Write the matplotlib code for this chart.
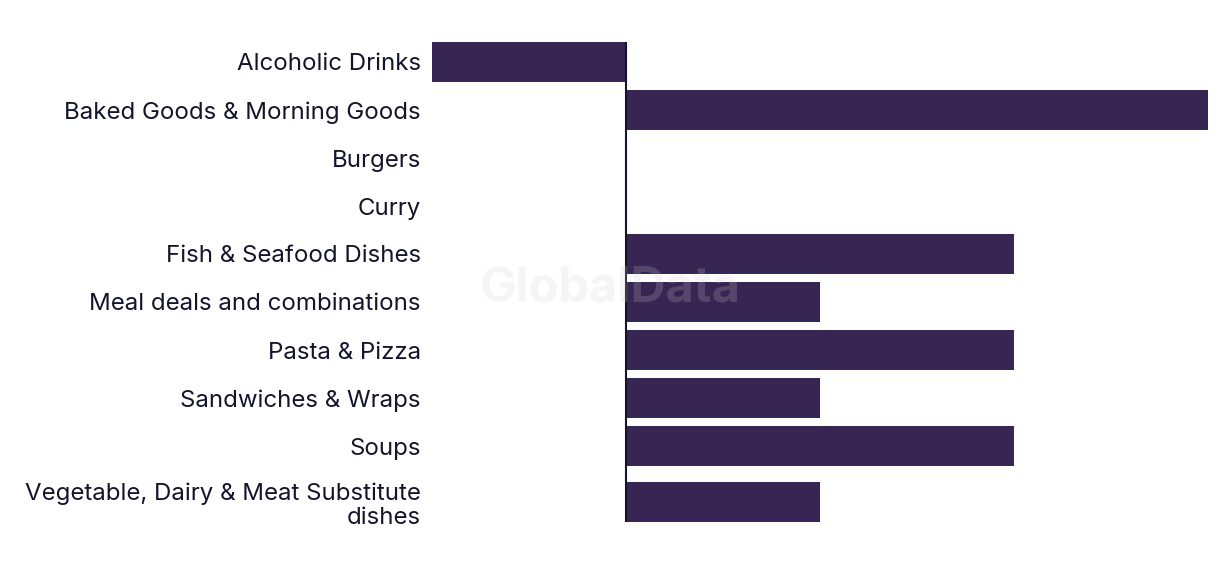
import numpy as np
import matplotlib.pyplot as plt

categories = ["Alcoholic Drinks", "Baked Goods & Morning Goods", "Burgers", "Curry",
              "Fish & Seafood Dishes", "Meal deals and combinations", "Pasta & Pizza",
              "Sandwiches & Wraps", "Soups", "Vegetable, Dairy & Meat Substitute\ndishes"]
values = [-1, 3, 0, 0, 2, 1, 2, 1, 2, 1]

plt.rcParams['font.family'] = ['Inter', 'DejaVu Sans']

fig = plt.figure(figsize=(12.2, 5.74), dpi=100)
ax = fig.add_axes([432/1220, 52/574, 776/1220, 480/574])

# last row is a bit taller because of the two-line label
y = np.arange(len(categories), dtype=float)
y[-1] += 8/48
h = 40/48

ax.barh(y, values, height=h, color="#372554")
ax.axvline(0, color="#14142b", lw=1.5, zorder=3)

ax.set_xlim(-1, 3)
ax.set_ylim(y[-1] + h/2, y[0] - h/2)
ax.set_yticks(y)
ax.set_yticklabels(categories, fontsize=17.3, color="#14142b", linespacing=1.15)
ax.tick_params(axis='y', length=0, pad=8)
ax.set_xticks([])
for s in ax.spines.values():
    s.set_visible(False)

fig.text(610/1220, 1 - 289/574, "GlobalData", fontsize=35, fontweight='bold',
         color="#d0d0d0", alpha=0.2, ha='center', va='center', zorder=10)

fig.savefig("out.png", dpi=100)
